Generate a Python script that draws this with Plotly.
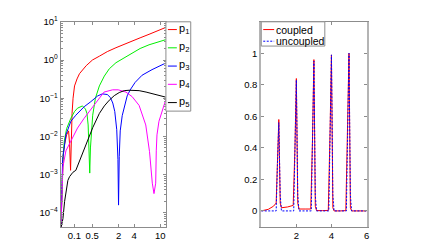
import plotly.graph_objects as go

W, H = 440, 241
OFF = 8  # default page body margin of the html page

# ---------------- left panel data (abstract position axis, log y) ----------------
x_ticks_pos = [13.8, 31.8, 58.3, 74.0, 100.3]
x_tick_labels = ["0.1", "0.5", "2", "4", "10"]

p1_x = [0.3, 1.0, 1.5, 2.5, 4.0, 6.0, 8.0, 9.0, 10.0, 10.8, 11.5, 12.5, 14.0, 16.5, 19.0, 25.7, 32.0, 39.0, 47.0, 55.7, 64.0, 72.0, 80.0, 89.0, 97.0, 105.7]
p1_y = [4e-5, 3e-4, 1e-3, 3e-3, 6.3e-3, 1.1e-2, 1.4e-2, 6.3e-3, 1.3e-3, 1.0e-2, 4.0e-2, 1.0e-1, 2.1e-1, 3.2e-1, 4.4e-1, 7.1e-1, 1.0, 1.26, 1.66, 2.1, 2.6, 3.1, 3.8, 4.7, 5.8, 7.1]

p2_x = [0.3, 1.0, 1.5, 2.5, 3.7, 6.0, 10.3, 14.0, 17.0, 22.0, 25.0, 26.5, 27.7, 28.6, 29.3, 30.0, 31.0, 32.3, 35.0, 39.0, 44.0, 49.0, 55.7, 64.0, 72.0, 80.0, 89.0, 97.0, 105.7]
p2_y = [4e-5, 3e-4, 1e-3, 3.2e-3, 7.6e-3, 1.6e-2, 3.0e-2, 4.5e-2, 5.5e-2, 6.3e-2, 5.2e-2, 4.0e-2, 2.0e-2, 5.0e-3, 1.1e-3, 5.0e-3, 1.6e-2, 3.6e-2, 1.0e-1, 2.1e-1, 3.8e-1, 5.9e-1, 8.5e-1, 1.15, 1.55, 2.0, 2.5, 2.95, 3.4]

p3_x = [0.3, 1.0, 2.0, 5.3, 10.3, 15.3, 23.7, 30.3, 37.3, 42.0, 47.0, 50.0, 52.5, 54.5, 56.5, 57.7, 58.3, 59.0, 60.0, 62.0, 64.0, 67.0, 70.0, 75.0, 82.0, 92.0, 105.7]
p3_y = [4e-5, 3e-4, 2.5e-3, 1.1e-2, 2.5e-2, 3.6e-2, 6.0e-2, 8.1e-2, 1.15e-1, 1.3e-1, 1.25e-1, 1.05e-1, 7.5e-2, 4.5e-2, 1.5e-2, 2.5e-3, 1.6e-4, 3.0e-3, 1.4e-2, 3.5e-2, 6.0e-2, 1.15e-1, 1.65e-1, 2.6e-1, 4.0e-1, 5.6e-1, 8.3e-1]

p4_x = [0.3, 1.0, 2.3, 5.3, 10.3, 17.0, 23.7, 33.7, 43.7, 52.3, 58.0, 65.7, 72.0, 79.0, 85.7, 89.5, 92.3, 94.0, 95.7, 96.3, 97.0, 99.0, 102.3, 105.7]
p4_y = [4e-5, 2e-4, 1.6e-3, 4.2e-3, 7.6e-3, 1.66e-2, 3.0e-2, 6.6e-2, 1.45e-1, 1.66e-1, 1.66e-1, 1.45e-1, 1.1e-1, 6.5e-2, 2.0e-2, 4.0e-3, 6.0e-4, 3.2e-4, 6.0e-4, 4.2e-3, 1.1e-2, 2.5e-2, 4.5e-2, 8.9e-2]

p5_x = [0.3, 2.3, 4.0, 5.7, 7.3, 9.0, 12.3, 15.3, 19.0, 25.7, 32.3, 39.0, 44.0, 49.0, 54.0, 59.0, 64.0, 69.0, 74.0, 79.0, 86.0, 92.3, 99.0, 105.7]
p5_y = [4e-5, 7e-5, 2.0e-4, 4.0e-4, 7.1e-4, 8.9e-4, 1.15e-3, 1.3e-3, 2.3e-3, 6.3e-3, 1.7e-2, 4.0e-2, 6.3e-2, 8.9e-2, 1.17e-1, 1.41e-1, 1.58e-1, 1.62e-1, 1.62e-1, 1.58e-1, 1.45e-1, 1.32e-1, 1.2e-1, 1.07e-1]

left_names = ["p<sub>1</sub>", "p<sub>2</sub>", "p<sub>3</sub>", "p<sub>4</sub>", "p<sub>5</sub>"]
left_colors = ["#ff0000", "#00ee00", "#0000ff", "#ff00ff", "#000000"]

# ---------------- right panel data ----------------
coupled_x = [0.0, 0.4, 0.7, 0.85, 0.92, 1.0, 1.08, 1.15, 1.5, 1.82, 1.92, 2.0, 2.08, 2.15, 2.5, 2.82, 2.92, 3.0, 3.08, 3.15, 3.5, 3.82, 3.92, 4.0, 4.08, 4.15, 4.5, 4.82, 4.92, 5.0, 5.08, 5.15, 6.0]
coupled_y = [0.0, 0.01, 0.03, 0.05, 0.3, 0.58, 0.05, 0.02, 0.025, 0.035, 0.4, 0.84, 0.05, 0.012, 0.012, 0.012, 0.45, 0.96, 0.03, 0.002, 0.002, 0.003, 0.5, 0.99, 0.02, 0.0, 0.0, 0.002, 0.55, 1.0, 0.02, 0.0, 0.0]
uncoupled_x = [0.0, 0.85, 0.92, 1.0, 1.08, 1.15, 1.85, 1.92, 2.0, 2.08, 2.15, 2.85, 2.92, 3.0, 3.08, 3.15, 3.85, 3.92, 4.0, 4.08, 4.15, 4.85, 4.92, 5.0, 5.08, 5.15, 6.0]
uncoupled_y = [0.0, 0.0, 0.28, 0.56, 0.1, 0.0, 0.0, 0.38, 0.83, 0.1, 0.0, 0.0, 0.44, 0.95, 0.1, 0.0, 0.0, 0.5, 0.99, 0.1, 0.0, 0.0, 0.55, 1.0, 0.1, 0.0, 0.0]

right_y_ticks = [0, 0.2, 0.4, 0.6, 0.8, 1]
right_y_labels = ["0", "0.2", "0.4", "0.6", "0.8", "1"]
right_x_ticks = [2, 4, 6]

FONT = "Liberation Sans, Arial, Helvetica, sans-serif"
DOT = "2px,1.5px"

fig = go.Figure()
left_series = [(p1_x, p1_y), (p2_x, p2_y), (p3_x, p3_y), (p4_x, p4_y), (p5_x, p5_y)]
for (xs, ys), nm, col in zip(left_series, left_names, left_colors):
    fig.add_trace(go.Scatter(x=xs, y=ys, mode="lines", name=nm, line=dict(color=col, width=1),
                             xaxis="x", yaxis="y", showlegend=False))

fig.add_trace(go.Scatter(x=coupled_x, y=coupled_y, mode="lines", name="coupled",
                         line=dict(color="#ff0000", width=1), xaxis="x2", yaxis="y2", showlegend=False))
fig.add_trace(go.Scatter(x=uncoupled_x, y=uncoupled_y, mode="lines", name="uncoupled",
                         line=dict(color="#0000ff", width=1, dash=DOT), xaxis="x2", yaxis="y2", showlegend=False))

def px2x(p):
    return (p - OFF) / W

def px2y(p):
    return 1 - (p - OFF) / H

ax_common = dict(showgrid=False, zeroline=False, showline=True, linecolor="#8c8c8c", linewidth=1,
                 mirror="ticks", ticks="inside", ticklen=3, tickcolor="#8c8c8c", tickangle=0,
                 tickfont=dict(family=FONT, size=9.5, color="#000"))

minor_logs = [m * 10 ** k for k in range(-5, 1) for m in range(2, 10)]

fig.update_layout(
    width=W, height=H, margin=dict(l=0, r=0, t=0, b=0),
    paper_bgcolor="white", plot_bgcolor="white",
    font=dict(family=FONT, size=9.5, color="#000"),
    xaxis=dict(domain=[px2x(61), px2x(167)], range=[0, 106], tickvals=x_ticks_pos, ticktext=x_tick_labels,
               anchor="y", **ax_common),
    yaxis=dict(domain=[px2y(226), px2y(15)], type="log", range=[-4.36, 1.0],
               tickvals=[1e-4, 1e-3, 1e-2, 1e-1, 1, 10],
               ticktext=["10<sup>−4</sup>", "10<sup>−3</sup>", "10<sup>−2</sup>", "10<sup>−1</sup>", "10<sup>0</sup>", "10<sup>1</sup>"],
               minor=dict(tickvals=minor_logs, ticks="inside", ticklen=2, tickcolor="#8c8c8c"),
               anchor="x", **ax_common),
    xaxis2=dict(domain=[px2x(263), px2x(369)], range=[0, 6], tickvals=right_x_ticks, anchor="y2", **ax_common),
    yaxis2=dict(domain=[px2y(226), px2y(15)], range=[-0.1, 1.2], tickvals=right_y_ticks, ticktext=right_y_labels,
                anchor="x2", **ax_common),
)
fig.update_layout(yaxis2_linewidth=2, yaxis2_linecolor="#b4b4b4")

# ---- manual legends (box + short line samples + text) ----
shapes = []
annots = []
# left legend
shapes.append(dict(type="rect", xref="paper", yref="paper", x0=px2x(167), x1=px2x(192), y0=px2y(107), y1=px2y(15),
                   line=dict(color="#8c8c8c", width=1), fillcolor="white", layer="above"))
for i, (nm, col) in enumerate(zip(left_names, left_colors)):
    yy = 23 + i * 18.8
    shapes.append(dict(type="line", xref="paper", yref="paper", x0=px2x(169), x1=px2x(178), y0=px2y(yy), y1=px2y(yy),
                       line=dict(color=col, width=1)))
    annots.append(dict(xref="paper", yref="paper", x=px2x(178.5), y=px2y(yy - 1), text=nm, showarrow=False,
                       xanchor="left", yanchor="middle", font=dict(family=FONT, size=11, color="#000")))
# right legend
shapes.append(dict(type="rect", xref="paper", yref="paper", x0=px2x(263), x1=px2x(327), y0=px2y(40), y1=px2y(15),
                   line=dict(color="#8c8c8c", width=1), fillcolor="white", layer="above"))
for i, (nm, col, dsh) in enumerate([("coupled", "#ff0000", "solid"), ("uncoupled", "#0000ff", DOT)]):
    yy = 23 + i * 12
    shapes.append(dict(type="line", xref="paper", yref="paper", x0=px2x(265), x1=px2x(276), y0=px2y(yy), y1=px2y(yy),
                       line=dict(color=col, width=1, dash=dsh)))
    annots.append(dict(xref="paper", yref="paper", x=px2x(276), y=px2y(yy), text=nm, showarrow=False,
                       xanchor="left", yanchor="middle", font=dict(family=FONT, size=10.5, color="#000")))
fig.update_layout(shapes=shapes, annotations=annots)

fig.write_html("out.html")
